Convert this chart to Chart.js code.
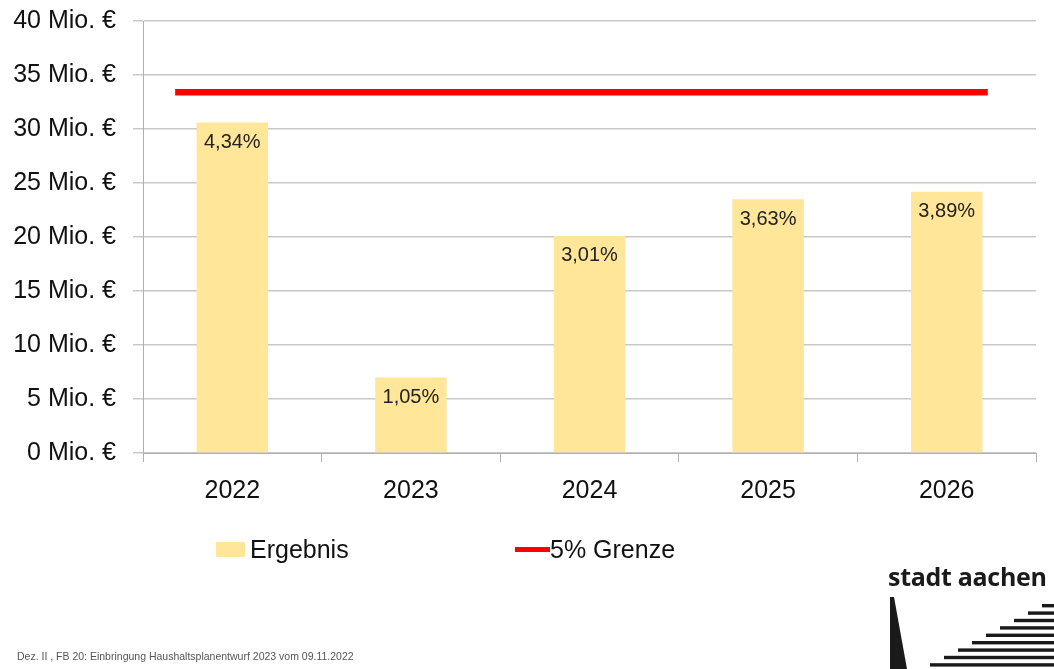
<!DOCTYPE html>
<html>
<head>
<meta charset="utf-8">
<script src="https://cdn.jsdelivr.net/npm/chart.js@4"></script>
<style>
  html, body { margin: 0; padding: 0; background: #fff; }
  body { width: 1054px; height: 669px; position: relative; overflow: hidden; font-family: "Liberation Sans", Arial, sans-serif; }
  #wrap { position: absolute; left: 0; top: 0; width: 1054px; height: 669px; }
  .legend { position: absolute; top: 534px; font-size: 25px; color: #111; line-height: 30px; }
  .legend .sw { display: inline-block; vertical-align: middle; }
  #footer { position: absolute; left: 17px; top: 650px; font-size: 10.5px; color: #555; }
  #logo-text { position: absolute; left: 888px; top: 559px; font-size: 25px; font-weight: bold; color: #1a1a1a; letter-spacing: -0.3px; font-family: "Open Sans", sans-serif; white-space: nowrap; }
  #logo-art { position: absolute; left: 880px; top: 595px; }
</style>
</head>
<body>
<div id="wrap"><canvas id="chart" width="1054" height="669"></canvas></div>

<div class="legend" style="left:216px;">
  <span class="sw" style="width:29px;height:15px;background:#ffe699;margin-right:5px;margin-top:-4px;"></span>Ergebnis
</div>
<div class="legend" style="left:515px;">
  <span class="sw" style="width:35px;height:5px;background:#ff0000;margin-top:-3px;"></span>5% Grenze
</div>

<div id="footer">Dez. II , FB 20: Einbringung Haushaltsplanentwurf 2023 vom 09.11.2022</div>

<div id="logo-text">stadt aachen</div>
<svg id="logo-art" width="174" height="74" viewBox="0 0 174 74">
  <polygon points="10,2 14,2 27,74 10,74" fill="#1a1a1a"/>
  <g fill="#1a1a1a" id="stripes"></g>
</svg>

<script>
// Haushalt Aachen - Ergebnis vs 5% Grenze

const years = ['2022', '2023', '2024', '2025', '2026'];
const ergebnis = [30.6, 7.0, 20.1, 23.5, 24.2];       // Mio. €
const ergebnisLabels = ['4,34%', '1,05%', '3,01%', '3,63%', '3,89%'];
const grenzeValue = 33.4;                               // Mio. €
const grenzeSpan = [-0.32, 4.23];                       // in category units
const yTicks = [0, 5, 10, 15, 20, 25, 30, 35, 40];

// logo stripes
const stripes = document.getElementById('stripes');
for (let i = 0; i < 9; i++) {
  const y = 9 + i * 7.4;
  const x0 = 162 - i * 14;
  const r = document.createElementNS('http://www.w3.org/2000/svg', 'rect');
  r.setAttribute('x', x0);
  r.setAttribute('y', y);
  r.setAttribute('width', 174 - x0);
  r.setAttribute('height', 3.4);
  stripes.appendChild(r);
}

// percent labels inside the bars
const barLabels = {
  id: 'barLabels',
  afterDatasetsDraw(chart) {
    const ctx = chart.ctx;
    const meta = chart.getDatasetMeta(0);
    ctx.save();
    ctx.font = '20px "Liberation Sans", Arial, sans-serif';
    ctx.fillStyle = '#222';
    ctx.textAlign = 'center';
    ctx.textBaseline = 'middle';
    meta.data.forEach((bar, i) => {
      ctx.fillText(ergebnisLabels[i], bar.x, bar.y + 20);
    });
    ctx.restore();
  }
};

const ctx = document.getElementById('chart').getContext('2d');
new Chart(ctx, {
  type: 'bar',
  data: {
    labels: years,
    datasets: [
      {
        type: 'bar',
        label: 'Ergebnis',
        data: ergebnis,
        backgroundColor: '#ffe699',
        categoryPercentage: 1,
        barPercentage: 0.4,
        grouped: false,
        xAxisID: 'x',
        order: 2
      },
      {
        type: 'line',
        label: '5% Grenze',
        data: grenzeSpan.map(x => ({ x: x, y: grenzeValue })),
        borderColor: '#ff0000',
        borderWidth: 6.5,
        borderCapStyle: 'butt',
        pointRadius: 0,
        xAxisID: 'xl',
        order: 1
      }
    ]
  },
  options: {
    responsive: false,
    animation: false,
    layout: { padding: { top: 21, right: 18, left: 0, bottom: 0 } },
    plugins: {
      legend: { display: false },
      tooltip: { enabled: false }
    },
    scales: {
      x: {
        type: 'category',
        offset: true,
        grid: { offset: true, drawOnChartArea: false, color: '#b0b0b0', lineWidth: 1, tickLength: 9 },
        border: { color: '#b0b0b0', width: 1 },
        ticks: { color: '#111', font: { size: 25, family: '"Liberation Sans", Arial, sans-serif' }, padding: 14 },
        afterFit: s => { s.height = 216; s.paddingLeft = 0; s.paddingRight = 0; }
      },
      xl: {
        type: 'linear',
        display: false,
        offset: false,
        min: -0.5,
        max: 4.5
      },
      y: {
        min: 0,
        max: 40,
        afterBuildTicks: s => { s.ticks = yTicks.map(v => ({ value: v })); },
        grid: { color: '#c8c8c8', lineWidth: 1.5, tickLength: 10 },
        border: { color: '#b0b0b0', width: 1 },
        ticks: {
          color: '#111',
          padding: 17,
          font: { size: 25, family: '"Liberation Sans", Arial, sans-serif' },
          callback: v => v + ' Mio. €'
        },
        afterFit: s => { s.width = 143; s.paddingTop = 0; s.paddingBottom = 0; }
      }
    }
  },
  plugins: [barLabels]
});
</script>
</body>
</html>
